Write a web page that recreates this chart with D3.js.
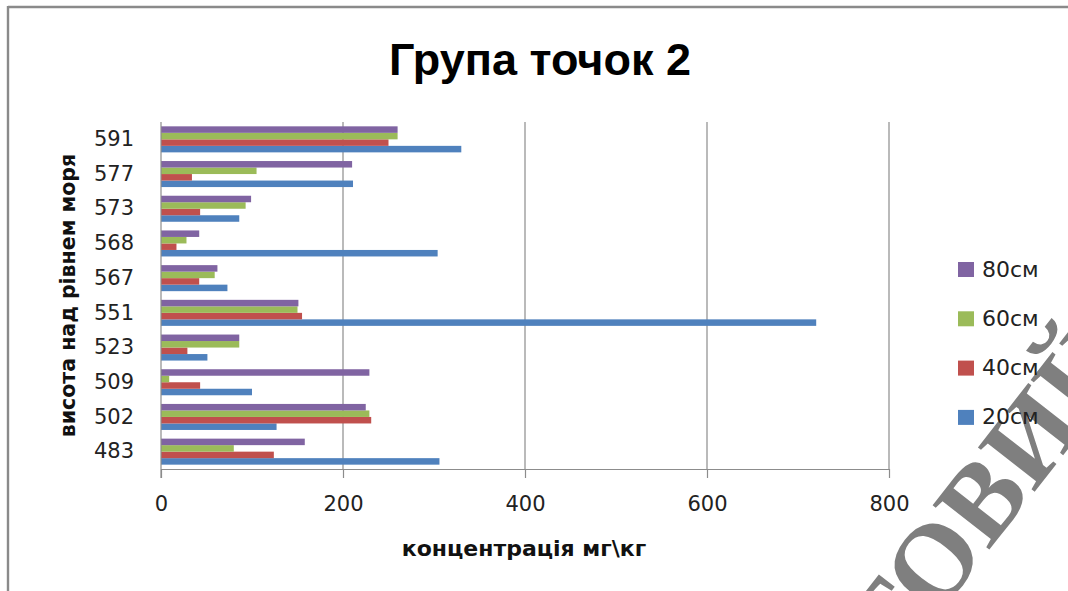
<!DOCTYPE html>
<html>
<head>
<meta charset="utf-8">
<script src="https://cdn.jsdelivr.net/npm/d3@7/dist/d3.min.js"></script>
<style>
  html, body { margin: 0; padding: 0; background: #fff; }
  svg { display: block; }
</style>
</head>
<body>
<svg id="chart" width="1068" height="591"></svg>
<script>
// Heights above sea level (category axis), listed bottom to top
const heights = ["483", "502", "509", "523", "551", "567", "568", "573", "577", "591"];

// Concentration, mg/kg, at each sampling depth
const depth20 = [306, 127, 100, 51, 720, 73, 304, 86, 211, 330];
const depth40 = [124, 231, 43, 29, 155, 42, 17, 43, 34, 250];
const depth60 = [80, 229, 9, 86, 150, 59, 28, 93, 105, 260];
const depth80 = [158, 225, 229, 86, 151, 62, 42, 99, 210, 260];

const seriesNames = ["20см", "40см", "60см", "80см"];
const seriesColors = ["#4F81BD", "#C0504D", "#9BBB59", "#8064A2"];
const xTicks = [0, 200, 400, 600, 800];

const titleText = "Група точок 2";
const xTitle = "концентрація мг\\кг";
const yTitle = "висота над рівнем моря";
const stampText = "ТОВИЙ";

const series = [depth20, depth40, depth60, depth80].map((vals, i) => ({
  name: seriesNames[i],
  color: seriesColors[i],
  values: vals
}));

const svg = d3.select("#chart");
const plot = { left: 161, right: 889, top: 122, bottom: 469 };

// Frame edges
svg.append("line").attr("x1", 8).attr("x2", 1068).attr("y1", 7).attr("y2", 7)
  .attr("stroke", "#8a8a8a").attr("stroke-width", 2.4);
svg.append("line").attr("x1", 8).attr("x2", 8).attr("y1", 6).attr("y2", 591)
  .attr("stroke", "#8a8a8a").attr("stroke-width", 2.4);

const x = d3.scaleLinear().domain([0, 800]).range([plot.left, plot.right]);
const y = d3.scaleBand().domain(heights.slice().reverse())
  .range([plot.top, plot.bottom]).paddingInner(0.25).paddingOuter(0.125);
// within a group the deepest sample sits on top
const ySub = d3.scaleBand().domain(seriesNames.slice().reverse())
  .range([0, y.bandwidth()]);

// Vertical gridlines
svg.append("g").selectAll("line").data(xTicks.slice(1)).join("line")
  .attr("x1", d => x(d)).attr("x2", d => x(d))
  .attr("y1", plot.top).attr("y2", plot.bottom)
  .attr("stroke", "#8c8c8c").attr("stroke-width", 1.2);

// Watermark stamp
svg.append("text")
  .attr("transform", "translate(986,494) rotate(-52)")
  .attr("text-anchor", "middle")
  .attr("dominant-baseline", "central")
  .attr("font-family", "'Liberation Serif', 'DejaVu Serif', serif")
  .attr("font-weight", "bold")
  .attr("font-size", 110)
  .attr("fill", "#7f7f7f")
  .text(stampText);

// Bars
const groups = svg.append("g").selectAll("g").data(series).join("g")
  .attr("fill", d => d.color);
groups.selectAll("rect")
  .data(s => s.values.map((v, i) => ({ v, h: heights[i], name: s.name })))
  .join("rect")
  .attr("x", x(0))
  .attr("y", d => y(d.h) + ySub(d.name))
  .attr("width", d => x(d.v) - x(0))
  .attr("height", ySub.bandwidth());

// X axis
const xAxis = svg.append("g")
  .attr("transform", `translate(0,${plot.bottom})`)
  .call(d3.axisBottom(x).tickValues(xTicks).tickSize(9).tickSizeOuter(0).tickPadding(18));
xAxis.select(".domain").attr("stroke", "#8c8c8c").attr("stroke-width", 1.2);
xAxis.selectAll(".tick line").attr("stroke", "#8c8c8c").attr("stroke-width", 1.2);
xAxis.selectAll(".tick text")
  .attr("font-family", "'DejaVu Sans', sans-serif")
  .attr("font-size", 21).attr("fill", "#222");

// Y axis
const yAxis = svg.append("g")
  .attr("transform", `translate(${plot.left},0)`)
  .call(d3.axisLeft(y).tickSize(0).tickPadding(27));
yAxis.select(".domain").attr("stroke", "#8c8c8c").attr("stroke-width", 1.2)
  .attr("d", `M0,${plot.top}V${plot.bottom + 9}`);
yAxis.selectAll(".tick text")
  .attr("font-family", "'DejaVu Sans', sans-serif")
  .attr("font-size", 21).attr("fill", "#222");

// Titles
svg.append("text")
  .attr("x", 540).attr("y", 75)
  .attr("text-anchor", "middle")
  .attr("font-family", "'Liberation Sans', Arial, sans-serif")
  .attr("font-weight", "bold").attr("font-size", 45)
  .attr("fill", "#000")
  .text(titleText);

svg.append("text")
  .attr("x", 524).attr("y", 556)
  .attr("text-anchor", "middle")
  .attr("font-family", "'DejaVu Sans', sans-serif")
  .attr("font-weight", "bold").attr("font-size", 22)
  .attr("fill", "#111")
  .text(xTitle);

svg.append("text")
  .attr("transform", `translate(75,${(plot.top + plot.bottom) / 2}) rotate(-90)`)
  .attr("text-anchor", "middle")
  .attr("font-family", "'DejaVu Sans', sans-serif")
  .attr("font-weight", "bold").attr("font-size", 20.5)
  .attr("fill", "#111")
  .text(yTitle);

// Legend, deepest sample first
const legend = svg.append("g").selectAll("g")
  .data(series.slice().reverse()).join("g")
  .attr("transform", (d, i) => `translate(958,${269 + i * 49.3})`);
legend.append("rect")
  .attr("x", 0).attr("y", -7).attr("width", 16).attr("height", 15)
  .attr("fill", d => d.color);
legend.append("text")
  .attr("x", 24).attr("y", 0)
  .attr("dominant-baseline", "central")
  .attr("font-family", "'DejaVu Sans', sans-serif")
  .attr("font-size", 22).attr("fill", "#222")
  .text(d => d.name);
</script>
</body>
</html>
